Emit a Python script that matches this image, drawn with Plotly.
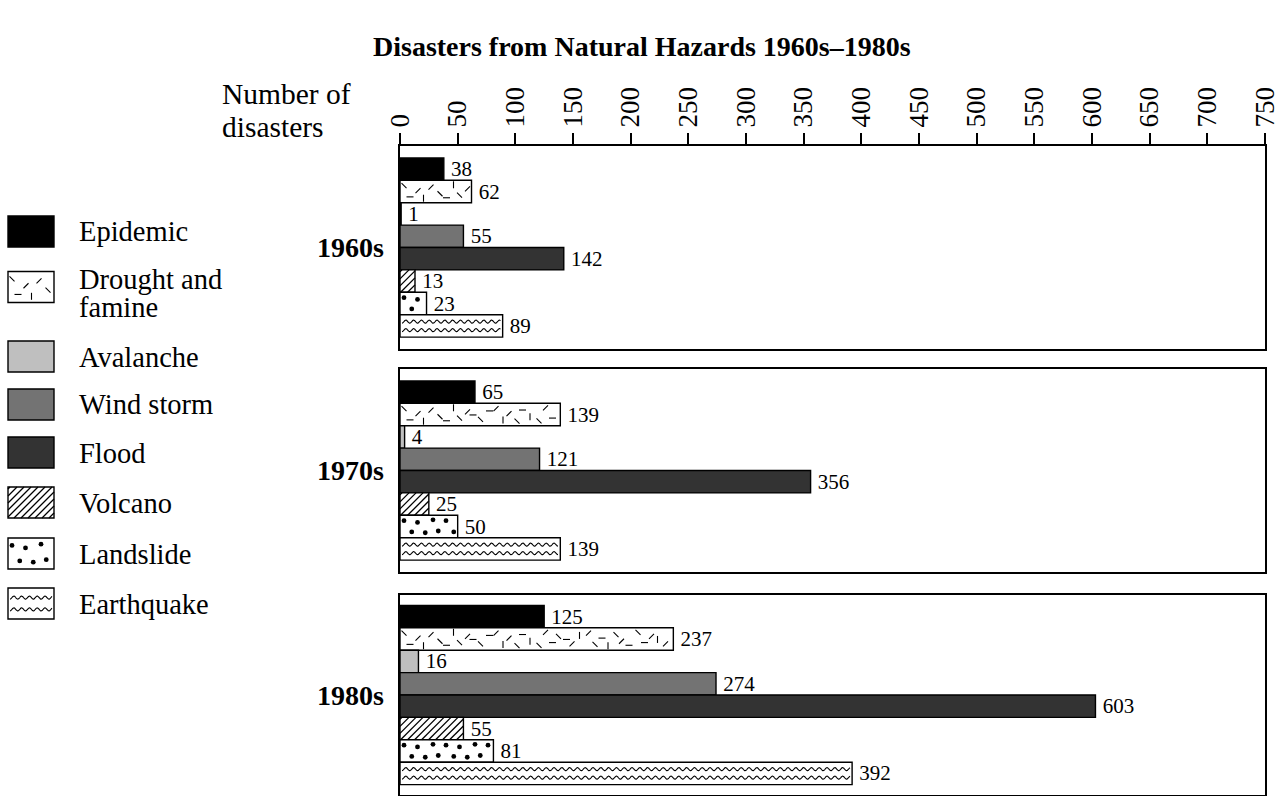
import math
import plotly.graph_objects as go

# ---- data -------------------------------------------------------------
hazards = ["Epidemic", "Drought and famine", "Avalanche", "Wind storm",
           "Flood", "Volcano", "Landslide", "Earthquake"]
decades = ["1960s", "1970s", "1980s"]
counts_1960s = [38, 62, 1, 55, 142, 13, 23, 89]
counts_1970s = [65, 139, 4, 121, 356, 25, 50, 139]
counts_1980s = [125, 237, 16, 274, 603, 55, 81, 392]
x_ticks = list(range(0, 751, 50))

# ---- styling ----------------------------------------------------------
W, H = 1284, 796
FONT = "Liberation Serif"
fills = ["#000000", "#ffffff", "#bfbfbf", "#737373", "#333333",
         "#ffffff", "#ffffff", "#ffffff"]
texture = [None, "dashes", None, None, None, "hatch", "dots", "waves"]

X0_PX, X1_PX = 400, 1265
panels_px = [(146, 349), (369, 572), (595, 795)]
ROW_PX = 22.4
XMAX = 750
SX = XMAX / (X1_PX - X0_PX)        # value units per pixel

DASH_OFF = [-0.26, 0.24, -0.04, 0.30, -0.20, 0.10, 0.28, -0.30, 0.16, -0.12, 0.02, 0.22, -0.16]
DASH_SYM = ["line-nw", "line-ew", "line-ne", "line-ns", "line-ne", "line-nw",
            "line-ew", "line-ns", "line-nw", "line-ne", "line-ew"]
DASH_GAP = [6.0, 8.0, 5.5, 7.5, 9.0, 6.5, 7.0]
DOT_OFF = [-0.26, 0.24, -0.18, 0.28, -0.30, 0.20]
DOT_JIT = [0, 1.5, -1.0, 0.5, 2.0, -1.5]
HATCH_GAP = 7.0


def dash_texture(length_px, yc, sx, sy, h_px):
    xs, ys, syms = [], [], []
    p, k = 4.0, 0
    while p < length_px - 3:
        xs.append(p * sx)
        ys.append(yc + DASH_OFF[k % len(DASH_OFF)] * h_px * sy)
        syms.append(DASH_SYM[k % len(DASH_SYM)])
        p += DASH_GAP[k % len(DASH_GAP)]
        k += 1
    return xs, ys, syms


def dot_texture(length_px, yc, sx, sy, h_px):
    xs, ys = [], []
    p, k = 4.0, 0
    while p < length_px - 3:
        xs.append((p + DOT_JIT[k % len(DOT_JIT)] * 0.5) * sx)
        ys.append(yc + DOT_OFF[k % len(DOT_OFF)] * h_px * sy)
        p += 7.0
        k += 1
    return xs, ys


def wave_texture(length_px, yc, sx, sy, h_px):
    xs, ys = [], []
    for off in (-0.19, 0.19):
        p = 2.0
        while p <= length_px - 2:
            xs.append(p * sx)
            ys.append(yc + (off * h_px + 1.5 * math.sin(2 * math.pi * p / 7.8)) * sy)
            p += 0.5
        xs.append(None)
        ys.append(None)
    return xs, ys


def hatch_texture(length_px, yc, sx, sy, h_px):
    # 45-degree "/" strokes clipped to the bar rectangle
    xs, ys = [], []
    c = -h_px + 2.0
    while c < length_px:
        t0 = max(0.0, -c)
        t1 = min(h_px, length_px - c)
        if t1 > t0:
            for t in (t0, t1):
                xs.append((c + t) * sx)
                ys.append(yc + (h_px / 2 - t) * sy)
            xs.append(None)
            ys.append(None)
        c += HATCH_GAP
    return xs, ys


def add_textures(fig, lengths_px, centers, sx, sy, h_px, xa, ya):
    dx, dy, ds = [], [], []
    px_, py_ = [], []
    lx, ly = [], []
    hx, hy = [], []
    for kind, L, yc in zip(texture, lengths_px, centers):
        if kind == "dashes":
            a, b, c = dash_texture(L, yc, sx, sy, h_px)
            dx += a; dy += b; ds += c
        elif kind == "dots":
            a, b = dot_texture(L, yc, sx, sy, h_px)
            px_ += a; py_ += b
        elif kind == "waves":
            a, b = wave_texture(L, yc, sx, sy, h_px)
            lx += a; ly += b
        elif kind == "hatch":
            a, b = hatch_texture(L, yc, sx, sy, h_px)
            hx += a; hy += b
    common = dict(xaxis=xa, yaxis=ya, hoverinfo="skip", showlegend=False)
    fig.add_trace(go.Scatter(x=dx, y=dy, mode="markers",
                             marker=dict(symbol=ds, size=5, color="black",
                                         line=dict(width=1.1, color="black")),
                             **common))
    fig.add_trace(go.Scatter(x=px_, y=py_, mode="markers",
                             marker=dict(symbol="circle", size=4.8, color="black"),
                             **common))
    fig.add_trace(go.Scatter(x=lx, y=ly, mode="lines",
                             line=dict(color="black", width=1.1, shape="spline"),
                             **common))
    fig.add_trace(go.Scatter(x=hx, y=hy, mode="lines",
                             line=dict(color="black", width=1.3), **common))


fig = go.Figure()
layout_axes = {}
annotations = []
series = [counts_1960s, counts_1970s, counts_1980s]
rows = list(range(len(hazards)))

for i, (decade, vals, (top, bot)) in enumerate(zip(decades, series, panels_px)):
    sfx = "" if i == 0 else str(i + 1)
    xa, ya = "x" + sfx, "y" + sfx
    fig.add_trace(go.Bar(
        x=vals, y=rows, orientation="h", width=1, xaxis=xa, yaxis=ya,
        marker=dict(color=fills, line=dict(color="black", width=1.4)),
        text=["\u2009" + str(v) for v in vals], textposition="outside",
        textfont=dict(family=FONT, size=21, color="black"),
        constraintext="none", cliponaxis=False, showlegend=False,
        hoverinfo="x",
    ))
    add_textures(fig, [v / SX for v in vals], rows, SX, 1 / ROW_PX, ROW_PX, xa, ya)

    g = ((bot - top) / ROW_PX - len(hazards)) / 2
    xkey = "xaxis" + sfx
    ykey = "yaxis" + sfx
    xdef = dict(domain=[X0_PX / W, X1_PX / W], range=[0, XMAX], anchor=ya,
                showline=True, mirror=True, linewidth=2, linecolor="black",
                showgrid=False, zeroline=False, fixedrange=True, automargin=False)
    if i == 0:
        xdef.update(side="top", tickmode="array", tickvals=x_ticks,
                    ticktext=[str(t) for t in x_ticks], ticks="outside",
                    ticklen=11, tickwidth=2, tickcolor="black", tickangle=-90,
                    tickfont=dict(family=FONT, size=27, color="black"))
    else:
        xdef.update(matches="x", showticklabels=False, ticks="")
    layout_axes[xkey] = xdef
    layout_axes[ykey] = dict(domain=[1 - bot / H, 1 - top / H],
                             range=[len(hazards) - 0.5 + g, -0.5 - g], anchor=xa,
                             showline=True, mirror=True, linewidth=2, linecolor="black",
                             showgrid=False, zeroline=False, showticklabels=False,
                             ticks="", fixedrange=True, automargin=False)
    annotations.append(dict(text="<b>%s</b>" % decade, xref="paper", yref="paper",
                            x=386 / W, y=1 - (top + bot) / 2 / H,
                            xanchor="right", yanchor="middle", showarrow=False,
                            font=dict(family=FONT, size=28, color="black")))

# ---- legend swatches, drawn in a pixel-unit subplot --------------------
sw_centers = [231.5, 287, 356.5, 404.5, 452.5, 502.5, 553.5, 603.5]
SW_W, SW_H = 46, 31
fig.add_trace(go.Bar(
    x=[SW_W] * len(hazards), y=sw_centers, base=0, orientation="h", width=SW_H,
    xaxis="x4", yaxis="y4",
    marker=dict(color=fills, line=dict(color="black", width=1.4)),
    showlegend=False, hoverinfo="skip",
))
add_textures(fig, [SW_W] * len(hazards), sw_centers, 1, 1, SW_H, "x4", "y4")
layout_axes["xaxis4"] = dict(domain=[0, 80 / W], range=[-8, 72], visible=False,
                             anchor="y4", fixedrange=True, automargin=False)
layout_axes["yaxis4"] = dict(domain=[0, 1], range=[H, 0], visible=False,
                             anchor="x4", fixedrange=True, automargin=False)

legend_lines = [("Epidemic", 232), ("Drought and", 279), ("famine", 307),
                ("Avalanche", 357), ("Wind storm", 405), ("Flood", 453),
                ("Volcano", 503), ("Landslide", 554), ("Earthquake", 604)]
for txt, ypx in legend_lines:
    annotations.append(dict(text=txt, xref="paper", yref="paper", x=77 / W,
                            y=1 - ypx / H, xanchor="left", yanchor="middle",
                            showarrow=False,
                            font=dict(family=FONT, size=28.5, color="black")))

annotations += [
    dict(text="<b>Disasters from Natural Hazards 1960s\u20131980s</b>",
         xref="paper", yref="paper", x=642 / W, y=1 - 47 / H,
         xanchor="center", yanchor="middle", showarrow=False,
         font=dict(family=FONT, size=28, color="black")),
    dict(text="Number of", xref="paper", yref="paper", x=220 / W, y=1 - 94 / H,
         xanchor="left", yanchor="middle", showarrow=False,
         font=dict(family=FONT, size=29.5, color="black")),
    dict(text="disasters", xref="paper", yref="paper", x=220 / W, y=1 - 127 / H,
         xanchor="left", yanchor="middle", showarrow=False,
         font=dict(family=FONT, size=29.5, color="black")),
]

fig.update_layout(
    width=W, height=H, autosize=False,
    margin=dict(l=0, r=0, t=0, b=0, pad=0, autoexpand=False),
    paper_bgcolor="white", plot_bgcolor="white",
    font=dict(family=FONT, color="black"),
    annotations=annotations, showlegend=False,
    **layout_axes,
)

fig.write_html("out.html")
